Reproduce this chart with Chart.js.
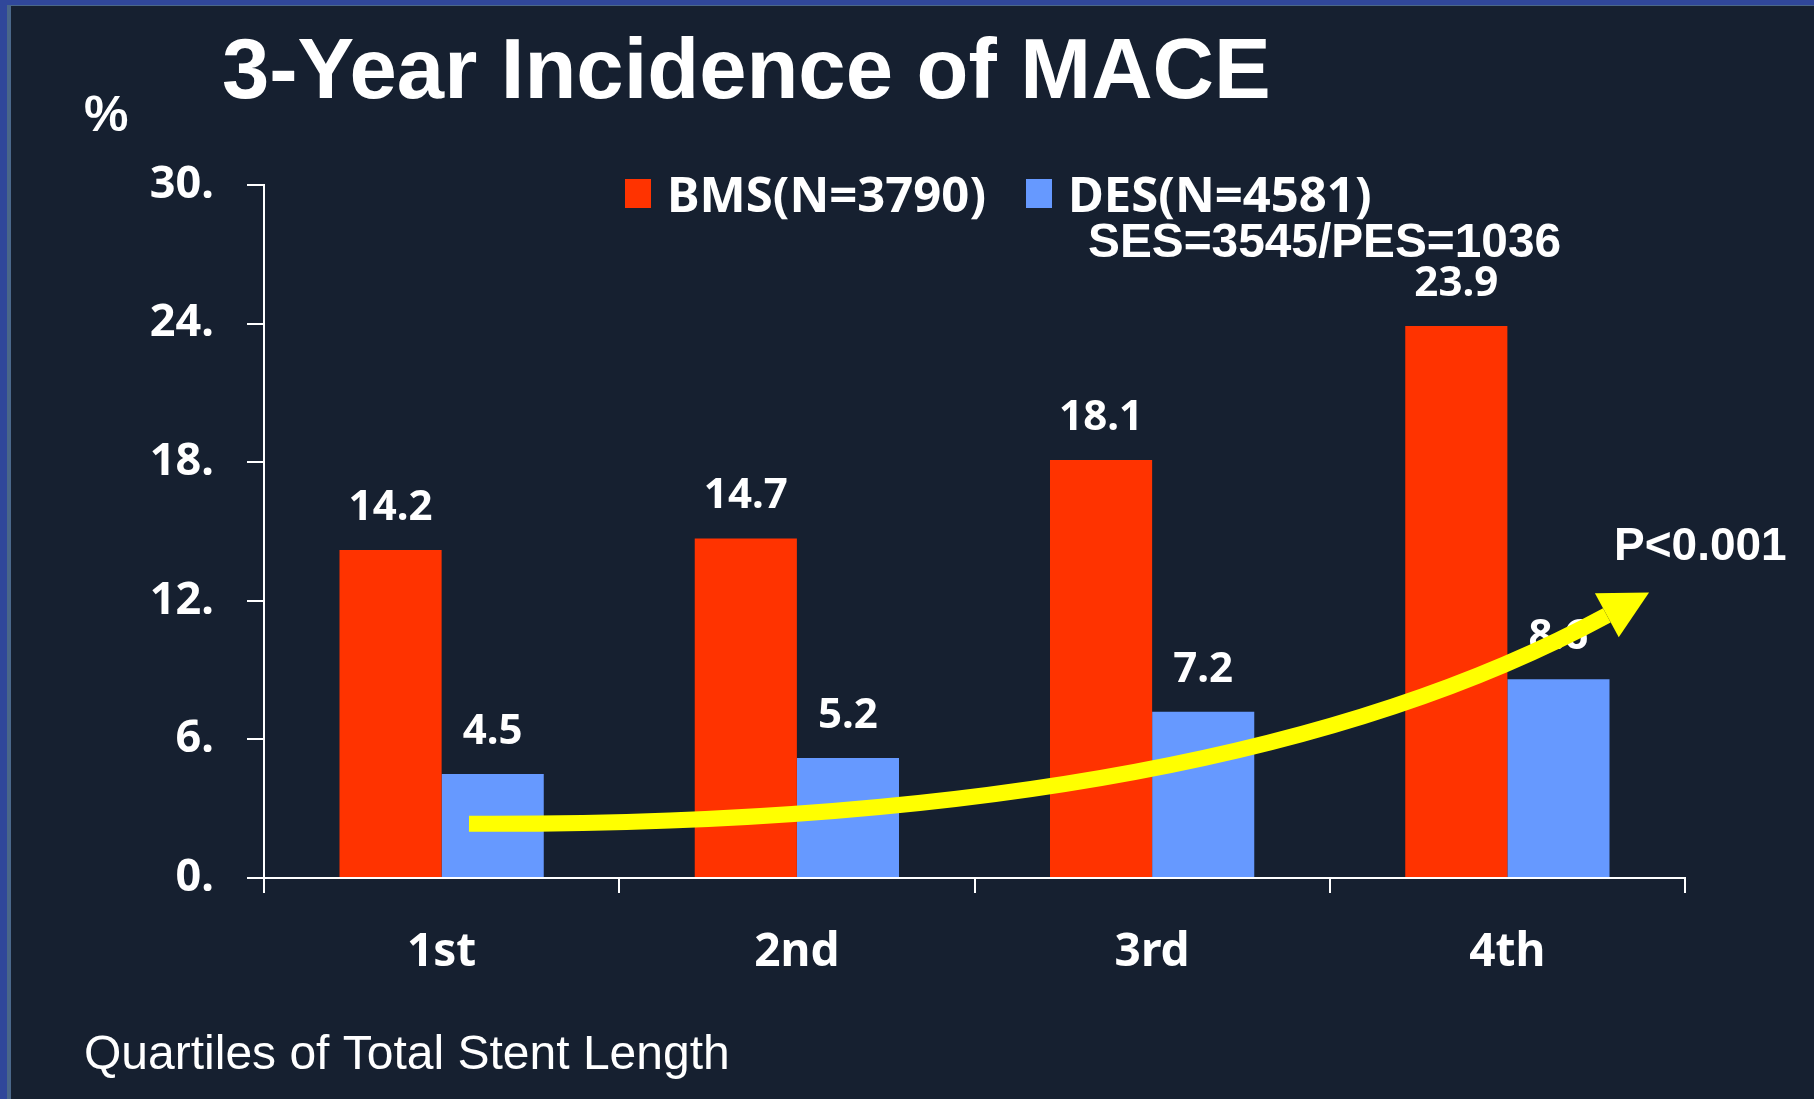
<!DOCTYPE html>
<html>
<head>
<meta charset="utf-8">
<script src="https://cdn.jsdelivr.net/npm/chart.js@4.4.0/dist/chart.umd.min.js"></script>
<style>
  html, body { margin: 0; padding: 0; background: #30479a; overflow: hidden; }
  #frame {
    position: absolute; left: 7px; top: 5px; width: 1807px; height: 1094px;
    border-left: 4px solid #4a6789; border-top: 1px solid #4a6789;
    background: #162030;
  }
  canvas { display: block; }
</style>
</head>
<body>
<div id="frame">
  <canvas id="myChart" width="1803" height="1093" style="width:1803px;height:1093px"></canvas>
</div>
<script>
const categories = ["1st", "2nd", "3rd", "4th"];
const bmsValues = [14.2, 14.7, 18.1, 23.9];
const desValues = [4.5, 5.2, 7.2, 8.6];
const seriesLabels = ["BMS(N=3790)", "DES(N=4581)"];
const yMax = 30;
const yStep = 6;
// trend arrow in data units (category index, percent): start, control, end
const trendArrow = [
  { x: 0.077, y: 2.35 },
  { x: 2.18, y: 2.2 },
  { x: 3.28, y: 11.37 },
];

const WHITE = "#ffffff";
const ctx = document.getElementById("myChart").getContext("2d");

const overlay = {
  id: "overlay",
  afterDatasetsDraw(chart) {
    const c = chart.ctx;
    c.save();
    // value labels above the bars
    c.fillStyle = WHITE;
    c.font = "bold 42px 'Noto Sans'";
    c.textAlign = "center";
    c.textBaseline = "middle";
    chart.data.datasets.forEach((ds, i) => {
      chart.getDatasetMeta(i).data.forEach((bar, j) => {
        c.fillText(ds.data[j].toFixed(1), bar.x, bar.y - 42);
      });
    });

    // yellow trend arrow
    const xs = chart.scales.x;
    const ys = chart.scales.y;
    const p = trendArrow.map((pt) => ({
      x: xs.getPixelForValue(pt.x),
      y: ys.getPixelForValue(pt.y),
    }));
    c.strokeStyle = "#ffff00";
    c.fillStyle = "#ffff00";
    c.lineWidth = 16;
    c.lineCap = "butt";
    c.beginPath();
    c.moveTo(p[0].x, p[0].y);
    c.quadraticCurveTo(p[1].x, p[1].y, p[2].x, p[2].y);
    c.stroke();
    let dx = p[2].x - p[1].x;
    let dy = p[2].y - p[1].y;
    const len = Math.hypot(dx, dy);
    dx /= len;
    dy /= len;
    c.beginPath();
    c.moveTo(p[2].x + dx * 48, p[2].y + dy * 48);
    c.lineTo(p[2].x - dy * 25, p[2].y + dx * 25);
    c.lineTo(p[2].x + dy * 25, p[2].y - dx * 25);
    c.closePath();
    c.fill();
    c.restore();
  },
  afterDraw(chart) {
    const c = chart.ctx;
    c.save();
    c.fillStyle = WHITE;
    c.textBaseline = "middle";
    c.textAlign = "left";

    c.font = "bold 85px 'Liberation Sans'";
    c.fillText("3-Year Incidence of MACE", 211, 69);

    c.font = "bold 50px 'Liberation Sans'";
    c.fillText("%", 73, 111);

    // legend
    const legendX = [614, 1015];
    chart.data.datasets.forEach((ds, i) => {
      c.fillStyle = ds.backgroundColor;
      c.fillRect(legendX[i], 173, 26, 29);
      c.fillStyle = WHITE;
      c.font = "bold 49px 'Noto Sans'";
      c.fillText(ds.label, legendX[i] + 42, 192);
    });

    c.font = "bold 47.8px 'Liberation Sans'";
    c.fillText("SES=3545/PES=1036", 1077, 238);
    c.font = "bold 46px 'Liberation Sans'";
    c.fillText("P<0.001", 1603, 541);

    c.font = "48px 'Liberation Sans'";
    c.fillText("Quartiles of Total Stent Length", 73, 1050);
    c.restore();
  },
};

const myChart = new Chart(ctx, {
  type: "bar",
  data: {
    labels: categories,
    datasets: [
      {
        label: seriesLabels[0],
        data: bmsValues,
        backgroundColor: "#ff3300",
        categoryPercentage: 0.575,
        barPercentage: 1,
      },
      {
        label: seriesLabels[1],
        data: desValues,
        backgroundColor: "#6699ff",
        categoryPercentage: 0.575,
        barPercentage: 1,
      },
    ],
  },
  options: {
    responsive: false,
    animation: false,
    layout: {
      padding: { top: 179, right: 129, left: 0, bottom: 0 },
    },
    plugins: {
      legend: { display: false },
      tooltip: { enabled: false },
    },
    scales: {
      x: {
        afterFit: (s) => { s.height = 221; },
        grid: {
          drawOnChartArea: false,
          color: WHITE,
          lineWidth: 2,
          tickLength: 15,
        },
        border: { color: WHITE, width: 2 },
        ticks: {
          color: WHITE,
          padding: 32,
          font: { family: "'Noto Sans'", size: 46, weight: "bold" },
        },
      },
      y: {
        min: 0,
        max: yMax,
        afterFit: (s) => { s.width = 253; },
        grid: {
          drawOnChartArea: false,
          color: WHITE,
          lineWidth: 2,
          tickLength: 17,
        },
        border: { color: WHITE, width: 2 },
        ticks: {
          stepSize: yStep,
          color: WHITE,
          padding: 33,
          font: { family: "'Noto Sans'", size: 45, weight: "bold" },
          callback: (v) => v + ".",
        },
      },
    },
  },
  plugins: [overlay],
});
</script>
</body>
</html>
